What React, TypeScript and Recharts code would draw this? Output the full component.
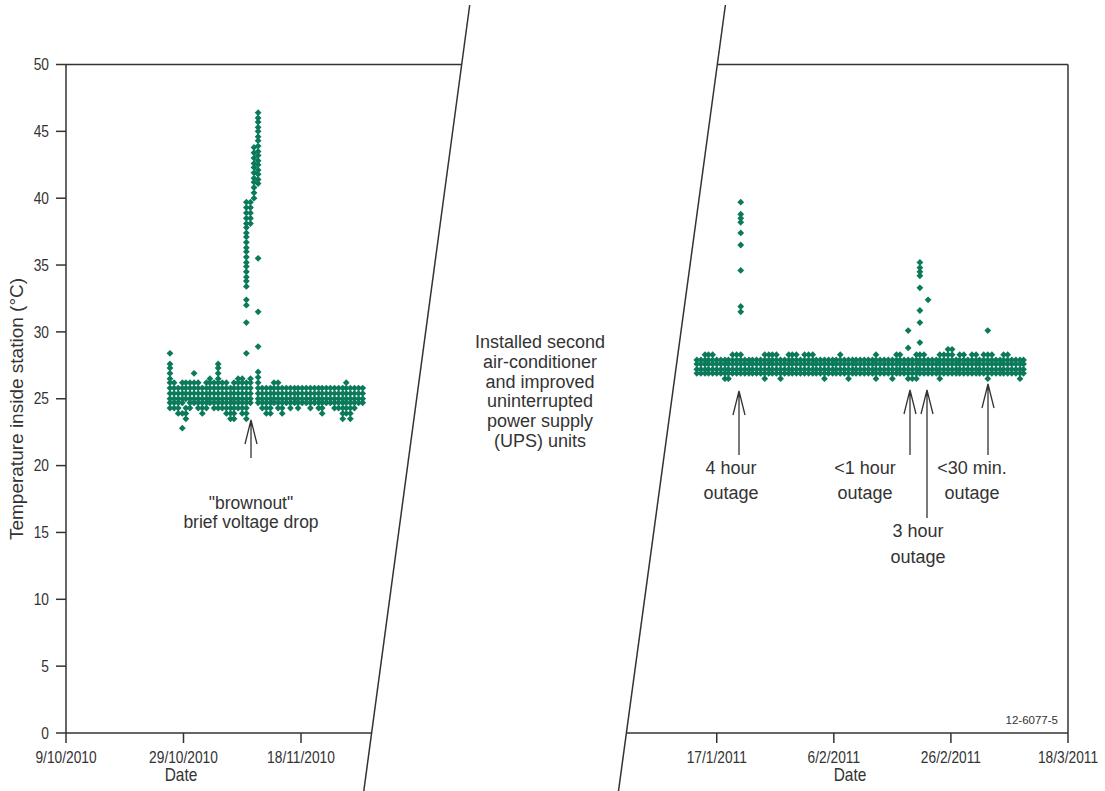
import React from 'react';
import { ScatterChart, Scatter, XAxis, YAxis } from 'recharts';

const GREEN = '#0b7a5a';
const INK = '#333333';
const FONT = "'Liberation Sans', Arial, sans-serif";

// left panel: x = days since 9/10/2010
const leftTicks = [0, 20, 40];
const leftTickLabels = ['9/10/2010', '29/10/2010', '18/11/2010'];
// right panel: x = days since 1/1/2011
const rightTicks = [16, 36, 56, 76];
const rightTickLabels = ['17/1/2011', '6/2/2011', '26/2/2011', '18/3/2011'];
const tempTicks = [0, 5, 10, 15, 20, 25, 30, 35, 40, 45, 50];

// each column: [day, temperatures...]
const leftColumns: number[][] = [
  [17.7, 28.4, 27.6, 27.3, 26.9, 26.5, 26.2, 25.8, 25.4, 25.0, 24.7, 24.3],
  [18.4, 26.2, 25.8, 25.4, 25.0, 24.7, 24.3],
  [19.1, 25.8, 25.4, 25.0, 24.7, 24.3, 23.9],
  [19.8, 26.2, 25.8, 25.4, 25.0, 24.7, 23.9, 22.8],
  [20.4, 26.2, 25.8, 25.4, 25.0, 24.3, 23.9, 23.5],
  [21.1, 26.2, 25.8, 25.4, 25.0, 24.7, 24.3],
  [21.8, 26.9, 26.2, 25.8, 25.4, 25.0, 24.7],
  [22.5, 26.2, 25.8, 25.4, 25.0, 24.7, 24.3],
  [23.2, 25.8, 25.4, 25.0, 24.7, 24.3, 23.9],
  [23.9, 26.2, 25.8, 25.4, 25.0, 24.7, 24.3],
  [24.5, 26.5, 26.2, 25.8, 25.4, 25.0, 24.7],
  [25.2, 26.2, 25.8, 25.4, 25.0, 24.7, 24.3],
  [25.9, 27.6, 27.3, 26.9, 26.5, 26.2, 25.8, 25.4, 25.0, 24.7, 24.3],
  [26.6, 26.2, 25.8, 25.4, 25.0, 24.7, 24.3],
  [27.3, 26.2, 25.8, 25.4, 25.0, 24.7, 24.3, 23.9],
  [28.0, 25.8, 25.4, 25.0, 24.7, 24.3, 23.9, 23.5],
  [28.6, 26.2, 25.8, 25.4, 25.0, 24.7, 24.3, 23.9, 23.5],
  [29.3, 26.5, 26.2, 25.8, 25.4, 25.0, 24.7, 24.3],
  [30.0, 26.5, 26.2, 25.8, 25.4, 25.0, 24.7, 24.3, 23.9],
  [30.7, 39.7, 39.3, 38.9, 38.5, 38.1, 37.8, 37.4, 37.1, 36.7, 36.3, 36.0, 35.6, 35.2, 34.9, 34.5, 34.1, 33.8, 33.4,
    32.4, 32.0, 30.7, 28.4, 26.2, 25.8, 25.4, 25.0, 24.7, 24.3, 23.9, 23.5],
  [31.4, 39.7, 39.3, 38.9, 38.5, 38.1, 26.5, 26.2, 25.8, 25.4, 25.0, 24.7],
  [32.0, 43.8, 43.4, 43.0, 42.6, 42.3, 41.9, 41.5, 41.2, 40.8, 40.4, 40.0],
  [32.7, 46.4, 46.0, 45.7, 45.3, 45.0, 44.6, 44.3, 43.9, 43.5, 43.2, 42.8, 42.5, 42.1, 41.8, 41.4, 41.1,
    35.5, 31.5, 28.9, 27.0, 26.6, 26.2, 25.8, 25.4, 25.0, 24.7],
  [33.4, 25.8, 25.4, 25.0, 24.7, 24.3],
  [34.1, 25.8, 25.4, 25.0, 24.7, 24.3, 23.9],
  [34.8, 25.8, 25.4, 25.0, 24.7, 24.3, 23.9],
  [35.4, 26.2, 25.8, 25.4, 25.0, 24.7],
  [36.1, 26.2, 25.8, 25.4, 25.0, 24.7, 24.3],
  [36.8, 25.8, 25.4, 25.0, 24.7, 24.3, 23.9],
  [37.5, 25.8, 25.4, 25.0, 24.7],
  [38.2, 25.8, 25.4, 25.0, 24.7, 24.3],
  [38.9, 25.8, 25.4, 25.0, 24.7],
  [39.5, 25.8, 25.4, 25.0, 24.7, 24.3],
  [40.2, 25.8, 25.4, 25.0, 24.7],
  [40.9, 25.8, 25.4, 25.0, 24.7],
  [41.6, 25.8, 25.4, 25.0, 24.7, 24.3],
  [42.3, 25.8, 25.4, 25.0, 24.7],
  [43.0, 25.8, 25.4, 25.0, 24.7, 24.3],
  [43.6, 25.8, 25.4, 25.0, 24.7, 24.3, 23.9],
  [44.3, 25.8, 25.4, 25.0, 24.7],
  [45.0, 25.8, 25.4, 25.0, 24.7],
  [45.7, 25.8, 25.4, 25.0, 24.7, 24.3],
  [46.4, 25.8, 25.4, 25.0, 24.7, 24.3],
  [47.1, 25.8, 25.4, 25.0, 24.7, 24.3, 23.9, 23.5],
  [47.7, 26.2, 25.8, 25.4, 25.0, 24.7, 24.3, 23.9],
  [48.4, 25.8, 25.4, 25.0, 24.7, 24.3, 23.9, 23.5],
  [49.1, 25.8, 25.4, 25.0, 24.7, 24.3],
  [49.8, 25.8, 25.4, 25.0, 24.7],
  [50.5, 25.8, 25.4, 25.0, 24.7],
];

const rightColumns: number[][] = [
  [12.6, 27.9, 27.6, 27.2, 26.9],
  [13.3, 27.9, 27.6, 27.2, 26.9],
  [14.0, 28.3, 27.9, 27.6, 27.2, 26.9],
  [14.6, 28.3, 27.9, 27.6, 27.2, 26.9],
  [15.3, 28.3, 27.9, 27.6, 27.2, 26.9],
  [16.0, 27.9, 27.6, 27.2, 26.9],
  [16.7, 27.9, 27.6, 27.2, 26.9],
  [17.4, 27.9, 27.6, 27.2, 26.9, 26.5],
  [18.0, 27.9, 27.6, 27.2, 26.9, 26.5],
  [18.7, 28.3, 27.9, 27.6, 27.2, 26.9],
  [19.4, 28.3, 27.9, 27.6, 27.2, 26.9],
  [20.1, 39.7, 38.8, 38.5, 38.2, 37.4, 36.5, 34.6, 31.9, 31.5, 28.3, 27.9, 27.6, 27.2, 26.9],
  [20.8, 27.9, 27.6, 27.2, 26.9],
  [21.5, 27.9, 27.6, 27.2, 26.9],
  [22.1, 27.9, 27.6, 27.2, 26.9],
  [22.8, 27.9, 27.6, 27.2, 26.9],
  [23.5, 27.9, 27.6, 27.2, 26.9],
  [24.2, 28.3, 27.9, 27.6, 27.2, 26.9, 26.5],
  [24.9, 28.3, 27.9, 27.6, 27.2, 26.9],
  [25.5, 28.3, 27.9, 27.6, 27.2, 26.9],
  [26.2, 28.3, 27.9, 27.6, 27.2, 26.9],
  [26.9, 27.9, 27.6, 27.2, 26.9, 26.5],
  [27.6, 27.9, 27.6, 27.2, 26.9],
  [28.3, 28.3, 27.9, 27.6, 27.2, 26.9],
  [28.9, 28.3, 27.9, 27.6, 27.2, 26.9],
  [29.6, 28.3, 27.9, 27.6, 27.2, 26.9],
  [30.3, 27.9, 27.6, 27.2, 26.9],
  [31.0, 28.3, 27.9, 27.6, 27.2, 26.9],
  [31.7, 28.3, 27.9, 27.6, 27.2, 26.9],
  [32.4, 28.3, 27.9, 27.6, 27.2, 26.9],
  [33.0, 27.9, 27.6, 27.2, 26.9],
  [33.7, 27.9, 27.6, 27.2, 26.9],
  [34.4, 27.9, 27.6, 27.2, 26.9, 26.5],
  [35.1, 27.9, 27.6, 27.2, 26.9],
  [35.8, 27.9, 27.6, 27.2, 26.9],
  [36.4, 27.9, 27.6, 27.2, 26.9],
  [37.1, 28.3, 27.9, 27.6, 27.2, 26.9],
  [37.8, 27.9, 27.6, 27.2, 26.9],
  [38.5, 27.9, 27.6, 27.2, 26.9, 26.5],
  [39.2, 27.9, 27.6, 27.2, 26.9],
  [39.8, 27.9, 27.6, 27.2, 26.9],
  [40.5, 27.9, 27.6, 27.2, 26.9],
  [41.2, 27.9, 27.6, 27.2, 26.9],
  [41.9, 27.9, 27.6, 27.2, 26.9],
  [42.6, 27.9, 27.6, 27.2, 26.9],
  [43.2, 28.3, 27.9, 27.6, 27.2, 26.9, 26.5],
  [43.9, 27.9, 27.6, 27.2, 26.9],
  [44.6, 27.9, 27.6, 27.2, 26.9],
  [45.3, 27.9, 27.6, 27.2, 26.9],
  [46.0, 27.9, 27.6, 27.2, 26.9, 26.5],
  [46.7, 28.3, 27.9, 27.6, 27.2, 26.9],
  [47.3, 28.3, 27.9, 27.6, 27.2, 26.9],
  [48.0, 27.9, 27.6, 27.2, 26.9],
  [48.7, 30.1, 28.8, 27.9, 27.6, 27.2, 26.9, 26.5],
  [49.4, 27.9, 27.6, 27.2, 26.9, 26.5],
  [50.1, 28.3, 27.9, 27.6, 27.2, 26.9, 26.5],
  [50.7, 35.2, 34.8, 34.5, 34.2, 33.3, 31.6, 30.7, 29.2, 28.3, 27.9, 27.6, 27.2, 26.9],
  [51.4, 28.3, 27.9, 27.6, 27.2, 26.9],
  [52.1, 32.4, 27.9, 27.6, 27.2, 26.9],
  [52.8, 27.9, 27.6, 27.2, 26.9],
  [53.5, 27.9, 27.6, 27.2, 26.9],
  [54.1, 28.3, 27.9, 27.6, 27.2, 26.9, 26.5],
  [54.8, 28.3, 27.9, 27.6, 27.2, 26.9],
  [55.5, 28.7, 28.3, 27.9, 27.6, 27.2, 26.9],
  [56.2, 28.7, 28.3, 27.9, 27.6, 27.2, 26.9],
  [56.9, 27.9, 27.6, 27.2, 26.9],
  [57.5, 28.3, 27.9, 27.6, 27.2, 26.9],
  [58.2, 28.3, 27.9, 27.6, 27.2, 26.9],
  [58.9, 27.9, 27.6, 27.2, 26.9],
  [59.6, 28.3, 27.9, 27.6, 27.2, 26.9],
  [60.3, 28.3, 27.9, 27.6, 27.2, 26.9],
  [60.9, 27.9, 27.6, 27.2, 26.9],
  [61.6, 28.3, 27.9, 27.6, 27.2, 26.9],
  [62.3, 30.1, 28.3, 27.9, 27.6, 27.2, 26.9, 26.5],
  [63.0, 28.3, 27.9, 27.6, 27.2, 26.9],
  [63.7, 27.9, 27.6, 27.2, 26.9],
  [64.4, 27.9, 27.6, 27.2, 26.9],
  [65.0, 28.3, 27.9, 27.6, 27.2, 26.9],
  [65.7, 28.3, 27.9, 27.6, 27.2, 26.9],
  [66.4, 27.9, 27.6, 27.2, 26.9],
  [67.1, 27.9, 27.6, 27.2, 26.9],
  [67.8, 27.9, 27.6, 27.2, 26.9, 26.5],
  [68.4, 27.9, 27.6, 27.2, 26.9],
];

const toPoints = (cols: number[][]) =>
  cols.flatMap(([d, ...temps]) => temps.map(t => ({ d, t })));

const leftPoints = toPoints(leftColumns);
const rightPoints = toPoints(rightColumns);

const Diamond = (props: any) => {
  const { cx, cy } = props;
  const r = 3.4;
  return <path d={`M${cx},${cy - r}L${cx + r},${cy}L${cx},${cy + r}L${cx - r},${cy}Z`} fill={GREEN} />;
};

// the original uses a condensed face, so the regular face is squeezed a little
const SQUEEZE = 0.86;

const makeXTick = (ticks: number[], labels: string[]) => (props: any) => {
  const { x, y, payload } = props;
  return (
    <text
      transform={`translate(${x},${y}) scale(${SQUEEZE},1)`} textAnchor="middle" dy="0.71em"
      fontFamily={FONT} fontSize={16} fill={INK}
    >
      {labels[ticks.indexOf(payload.value)]}
    </text>
  );
};

const YTick = (props: any) => {
  const { x, y, payload } = props;
  return (
    <text
      transform={`translate(${x},${y}) scale(${SQUEEZE},1)`} textAnchor="end" dy="0.355em"
      fontFamily={FONT} fontSize={16} fill={INK}
    >
      {payload.value}
    </text>
  );
};

const axisStroke = { stroke: INK, strokeWidth: 1.5 };

function Arrow({ x, tip, bottom }: { x: number; tip: number; bottom: number }) {
  return (
    <path
      d={`M${x},${bottom}L${x},${tip}M${x - 6},${tip + 24}L${x},${tip}L${x + 6},${tip + 24}`}
      fill="none" stroke={INK} strokeWidth={1.3}
    />
  );
}

function Note({ x, y, lines, gap, size = 18 }: { x: number; y: number; lines: string[]; gap: number; size?: number }) {
  return (
    <text x={x} y={y} textAnchor="middle" fontFamily={FONT} fontSize={size} fill={INK}>
      {lines.map((l, i) => (
        <tspan key={i} x={x} dy={i === 0 ? 0 : gap}>{l}</tspan>
      ))}
    </text>
  );
}

export default function App() {
  return (
    <div style={{ position: 'absolute', left: 0, top: 0, width: 1105, height: 791, background: '#fff' }}>
      {/* left panel: Oct - Nov 2010 */}
      <div style={{ position: 'absolute', left: 0, top: 0 }}>
        <ScatterChart width={400} height={791} margin={{ top: 64.5, right: 28.5, bottom: 28, left: 0 }}>
          <XAxis
            type="number" dataKey="d" domain={[0, 52]} ticks={leftTicks} allowDataOverflow
            tick={makeXTick(leftTicks, leftTickLabels)} tickSize={10} tickMargin={9} height={30}
            axisLine={axisStroke} tickLine={axisStroke}
          />
          <YAxis
            type="number" dataKey="t" domain={[0, 50]} ticks={tempTicks} allowDataOverflow
            tick={YTick} tickSize={10} tickMargin={7} width={66}
            axisLine={axisStroke} tickLine={axisStroke}
          />
          <Scatter data={leftPoints} shape={Diamond} isAnimationActive={false} />
        </ScatterChart>
      </div>

      {/* right panel: Jan - Mar 2011 */}
      <div style={{ position: 'absolute', left: 600, top: 0 }}>
        <ScatterChart width={505} height={791} margin={{ top: 64.5, right: 37, bottom: 28, left: 26 }}>
          <XAxis
            type="number" dataKey="d" domain={[0.5, 76]} ticks={rightTicks} allowDataOverflow
            tick={makeXTick(rightTicks, rightTickLabels)} tickSize={10} tickMargin={9} height={30}
            axisLine={axisStroke} tickLine={axisStroke}
          />
          <YAxis type="number" dataKey="t" domain={[0, 50]} hide allowDataOverflow />
          <Scatter data={rightPoints} shape={Diamond} isAnimationActive={false} />
        </ScatterChart>
      </div>

      {/* frame, axis break lines and annotations */}
      <svg width={1105} height={791} style={{ position: 'absolute', left: 0, top: 0, pointerEvents: 'none' }}>
        <g stroke={INK} strokeWidth={1.5} fill="none">
          <line x1={66} y1={64.5} x2={461.7} y2={64.5} />
          <line x1={469.7} y1={5} x2={363.8} y2={791} />
          <line x1={717.3} y1={64.5} x2={1068} y2={64.5} />
          <line x1={1068} y1={64.5} x2={1068} y2={733} />
          <line x1={725.4} y1={5} x2={618.5} y2={791} />
        </g>

        <text
          transform="translate(23,409) rotate(-90)" textAnchor="middle"
          fontFamily={FONT} fontSize={19} fill={INK}
        >
          Temperature inside station (°C)
        </text>
        <text
          transform={`translate(181,781) scale(${SQUEEZE},1)`} textAnchor="middle"
          fontFamily={FONT} fontSize={18} fill={INK}
        >
          Date
        </text>
        <text
          transform={`translate(850,781) scale(${SQUEEZE},1)`} textAnchor="middle"
          fontFamily={FONT} fontSize={18} fill={INK}
        >
          Date
        </text>

        <Arrow x={251} tip={420} bottom={458} />
        <Note x={251} y={509} lines={['"brownout"', 'brief voltage drop']} gap={19} size={17.5} />

        <Note
          x={540} y={348} gap={19.8}
          lines={['Installed second', 'air-conditioner', 'and improved', 'uninterrupted', 'power supply', '(UPS) units']}
        />

        <Arrow x={739} tip={391} bottom={455} />
        <Note x={731} y={474} lines={['4 hour', 'outage']} gap={25} />
        <Arrow x={910} tip={390} bottom={455} />
        <Note x={865} y={474} lines={['<1 hour', 'outage']} gap={25} />
        <Arrow x={927} tip={390} bottom={518} />
        <Note x={918} y={537} lines={['3 hour', 'outage']} gap={26} />
        <Arrow x={988} tip={384} bottom={455} />
        <Note x={972} y={474} lines={['<30 min.', 'outage']} gap={25} />

        <text x={1058} y={724} textAnchor="end" fontFamily={FONT} fontSize={11.5} fill={INK}>12-6077-5</text>
      </svg>
    </div>
  );
}
